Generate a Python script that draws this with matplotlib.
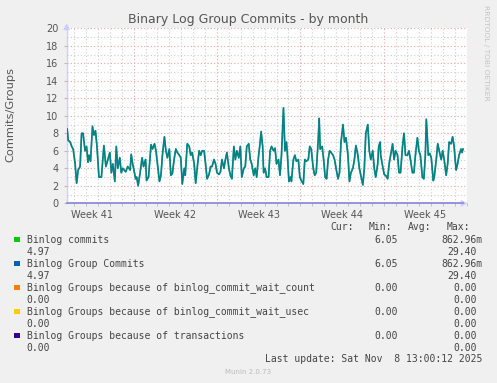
import matplotlib
matplotlib.use("Agg")
import matplotlib.pyplot as plt
import numpy as np

# ── data (hours since left edge of the graph, value per second) ───────
HOURS = [
    1, 3, 7, 10, 13, 17, 20, 23, 27, 30, 33, 37, 40, 43, 45, 48, 52, 55, 58, 61,
    65, 70, 75, 79, 83, 87, 90, 93, 97, 100, 103, 107, 110, 113, 119, 123, 128, 130, 133, 139,
    141, 144, 148, 152, 155, 159, 161, 165, 170, 173, 177, 180, 183, 187, 190, 193, 197, 200, 203, 207,
    210, 213, 217, 220, 223, 227, 230, 233, 237, 239, 243, 247, 250, 253, 257, 260, 263, 267, 270, 273,
    277, 280, 283, 287, 290, 293, 297, 300, 303, 307, 310, 313, 317, 320, 323, 327, 330, 333, 337, 340,
    343, 347, 350, 353, 357, 360, 363, 367, 370, 373, 377, 380, 383, 387, 390, 392, 395, 397, 400, 403,
    407, 410, 413, 417, 420, 423, 427, 430, 433, 437, 440, 443, 445, 448, 451, 453, 457, 460, 463, 467,
    470, 473, 477, 480, 483, 487, 490, 493, 497, 500, 503, 507, 509, 511, 515, 518, 521, 524, 527, 530,
    533, 537, 540, 543, 547, 550, 553, 557, 560, 563, 567, 570, 573, 577, 580, 583, 587, 590, 593, 597,
    600, 603, 607, 610, 613, 617, 620, 623, 627, 629, 632, 633, 637, 640, 643, 647, 650, 653, 657, 660,
    663, 667, 670, 673, 677, 680, 683, 687, 690, 693, 697, 700, 703, 707, 710, 713, 717, 720, 723, 725,
    729, 732, 735, 739, 741, 745, 748, 751, 755, 758, 761, 765, 768, 771, 775, 778, 781, 785, 788, 791,
    795, 797, 799,
]
COMMITS = [
    8.5, 7.2, 7.0, 6.5, 6.2, 4.5, 2.3, 3.8, 4.2, 8.0, 8.0, 6.0, 6.5, 4.7, 5.5, 4.8, 8.8, 7.8, 8.3, 6.5,
    3.0, 3.0, 6.6, 4.2, 5.0, 5.8, 3.5, 4.5, 2.5, 6.5, 4.0, 5.2, 3.5, 4.0, 3.6, 4.2, 3.8, 5.6, 4.5, 2.8,
    3.0, 2.0, 3.5, 5.2, 4.2, 5.0, 2.6, 3.0, 6.7, 6.2, 6.8, 6.0, 4.5, 2.5, 3.2, 5.5, 7.6, 6.0, 5.2, 6.2,
    3.2, 3.4, 5.2, 6.2, 5.8, 5.5, 5.2, 2.2, 4.0, 3.2, 6.8, 6.5, 5.5, 5.8, 4.5, 2.3, 4.0, 6.0, 5.5, 6.0,
    6.0, 4.5, 2.8, 3.3, 4.2, 4.2, 5.0, 4.5, 3.5, 3.3, 3.6, 5.0, 4.0, 5.0, 5.8, 4.0, 3.2, 2.8, 6.5, 5.0,
    6.0, 5.2, 6.5, 3.0, 4.0, 4.2, 6.5, 6.8, 5.0, 4.5, 3.2, 4.0, 3.0, 5.5, 7.0, 8.2, 6.5, 3.5, 4.0, 3.0,
    3.0, 6.0, 6.5, 6.0, 6.3, 4.5, 5.0, 3.2, 5.5, 10.9, 6.0, 7.0, 5.5, 2.5, 3.0, 2.5, 5.0, 5.5, 4.8, 5.0,
    3.0, 2.6, 2.2, 5.0, 4.8, 5.0, 6.5, 6.2, 4.0, 3.2, 3.5, 7.2, 9.7, 6.2, 6.5, 5.0, 3.0, 2.8, 5.0, 6.0,
    5.8, 5.5, 5.0, 4.0, 2.8, 3.5, 7.0, 9.0, 7.0, 7.5, 5.5, 2.5, 3.5, 4.0, 5.0, 6.6, 5.5, 4.0, 3.2, 2.1,
    4.0, 8.0, 9.0, 6.0, 5.0, 6.0, 4.0, 3.0, 4.5, 6.5, 7.0, 5.5, 4.2, 3.3, 3.2, 2.8, 4.5, 5.5, 6.8, 5.0,
    6.0, 5.5, 3.5, 3.5, 6.5, 8.0, 5.5, 5.5, 6.0, 5.0, 3.5, 3.5, 5.5, 7.5, 6.0, 5.5, 3.0, 2.8, 5.5, 9.6,
    5.5, 5.7, 5.2, 2.6, 3.0, 5.0, 6.8, 6.0, 5.0, 6.0, 5.0, 3.2, 4.5, 7.0, 6.8, 7.6, 6.5, 3.8, 4.5, 5.5,
    6.2, 5.8, 6.2,
]
GROUP_COMMITS = list(COMMITS)
WAIT_COUNT = [0.0] * len(HOURS)
WAIT_USEC = [0.0] * len(HOURS)
TRANSACTIONS = [0.0] * len(HOURS)

WEEK_LABELS = ["Week 41", "Week 42", "Week 43", "Week 44", "Week 45"]
WEEK_CENTERS = [51, 219, 387, 555, 723]
WEEK_STARTS = [135, 303, 471, 639]
DAY_LINES = [15 + 24 * i for i in range(34)]

LEGEND = [
    ("#00CC00", "Binlog commits", "6.05", "862.96m", "4.97", "29.40"),
    ("#0066B3", "Binlog Group Commits", "6.05", "862.96m", "4.97", "29.40"),
    ("#FF8000", "Binlog Groups because of binlog_commit_wait_count", "0.00", "0.00", "0.00", "0.00"),
    ("#FFCC00", "Binlog Groups because of binlog_commit_wait_usec", "0.00", "0.00", "0.00", "0.00"),
    ("#330099", "Binlog Groups because of transactions", "0.00", "0.00", "0.00", "0.00"),
]

# ── 그리기 ────────────────────────────────────────────────────────────
W, H = 497, 383
fig = plt.figure(figsize=(W / 100, H / 100), dpi=100)
fig.patch.set_facecolor("#F0F0F0")

def fx(px):
    return px / W

def fy(py):
    return 1 - py / H

ax = fig.add_axes([fx(66.7), fy(203.3), fx(467 - 66.7), (203.3 - 28.3) / H])
ax.set_facecolor("white")
ax.set_xlim(0, 800)
ax.set_ylim(0, 20)
for s in ax.spines.values():
    s.set_visible(False)

# grid
for y in range(1, 21):
    col = "#E8A8A8" if y % 2 == 0 else "#CFCFCF"
    ax.axhline(y, color=col, linewidth=0.8, linestyle=(0, (1, 2)), zorder=0)
for x in DAY_LINES:
    if x in WEEK_STARTS:
        continue
    ax.axvline(x, color="#CFCFCF", linewidth=0.8, linestyle=(0, (1, 2)), zorder=0)
for x in WEEK_STARTS:
    ax.axvline(x, color="#E8A8A8", linewidth=0.8, linestyle=(0, (1, 2)), zorder=0)

# series
ax.plot(HOURS, COMMITS, color="#00CC00", linewidth=1.0, zorder=3)
ax.plot(HOURS, GROUP_COMMITS, color="#0066B3", linewidth=1.3, alpha=0.72, zorder=4)
ax.plot(HOURS, WAIT_COUNT, color="#FF8000", linewidth=0.6, zorder=2)
ax.plot(HOURS, WAIT_USEC, color="#FFCC00", linewidth=0.6, zorder=2)
ax.plot(HOURS, TRANSACTIONS, color="#8C8CDC", linewidth=1.3, zorder=5, clip_on=False)

# axes lines + arrows
ax.plot([0, 0], [0, 20], color="#D0D0F0", linewidth=1.0, zorder=1, clip_on=False)
ax.annotate("", xy=(0, 20.9), xytext=(0, 20.0), xycoords="data",
            arrowprops=dict(arrowstyle="-|>,head_width=0.25,head_length=0.5",
                            color="#CCCCFF", lw=0), annotation_clip=False)
ax.annotate("", xy=(814, 0), xytext=(800, 0), xycoords="data",
            arrowprops=dict(arrowstyle="-|>,head_width=0.25,head_length=0.5",
                            color="#CCCCFF", lw=0), annotation_clip=False)

# ticks
ax.set_yticks(range(0, 21, 2))
ax.set_yticklabels([str(v) for v in range(0, 21, 2)])
ax.set_xticks(WEEK_CENTERS)
ax.set_xticklabels(WEEK_LABELS)
ax.set_xticks(DAY_LINES, minor=True)
ax.tick_params(axis="x", which="major", length=0, pad=5, labelsize=7, colors="#555555")
ax.tick_params(axis="x", which="minor", length=2, color="#BBBBBB")
ax.tick_params(axis="y", which="major", length=2, pad=4, labelsize=7, colors="#555555",
               color="#BBBBBB")

# texts
fig.text(fx(248), fy(19), "Binary Log Group Commits - by month", ha="center", va="center",
         fontsize=9, color="#555555")
fig.text(fx(10), fy(115), "Commits/Groups", rotation=90, ha="center", va="center",
         fontsize=8.2, color="#555555")
fig.text(fx(486), fy(5), "RRDTOOL / TOBI OETIKER", rotation=270, ha="center", va="top",
         fontsize=5.4, color="#C4C4C4")

mono = "DejaVu Sans Mono"
TXT = "#444444"
for label, px in [("Cur:", 330), ("Min:", 369), ("Avg:", 408), ("Max:", 447)]:
    fig.text(fx(px), fy(227.3), label, ha="left", va="center", fontsize=7,
             family=mono, color=TXT)

row_y = 239.7
for color, name, cur, mn, avg, mx in LEGEND:
    fig.patches.append(plt.Rectangle((fx(14.3), fy(row_y + 2.7)), fx(5.4), 5.4 / H,
                                     transform=fig.transFigure, facecolor=color,
                                     edgecolor="none"))
    fig.text(fx(26.7), fy(row_y), name, ha="left", va="center", fontsize=7,
             family=mono, color=TXT)
    fig.text(fx(398.3), fy(row_y), cur, ha="right", va="center", fontsize=7,
             family=mono, color=TXT)
    fig.text(fx(483) if mn.endswith("m") else fx(476.7), fy(row_y), mn, ha="right",
             va="center", fontsize=7, family=mono, color=TXT)
    fig.text(fx(26.7), fy(row_y + 12), avg, ha="left", va="center", fontsize=7,
             family=mono, color=TXT)
    fig.text(fx(476.7), fy(row_y + 12), mx, ha="right", va="center", fontsize=7,
             family=mono, color=TXT)
    row_y += 24

fig.text(fx(482.3), fy(359.3), "Last update: Sat Nov  8 13:00:12 2025", ha="right",
         va="center", fontsize=7, family=mono, color=TXT)
fig.text(fx(248), fy(372), "Munin 2.0.73", ha="center", va="center", fontsize=5,
         color="#BBBBBB")

fig.savefig("out.png", dpi=100, facecolor=fig.get_facecolor())
